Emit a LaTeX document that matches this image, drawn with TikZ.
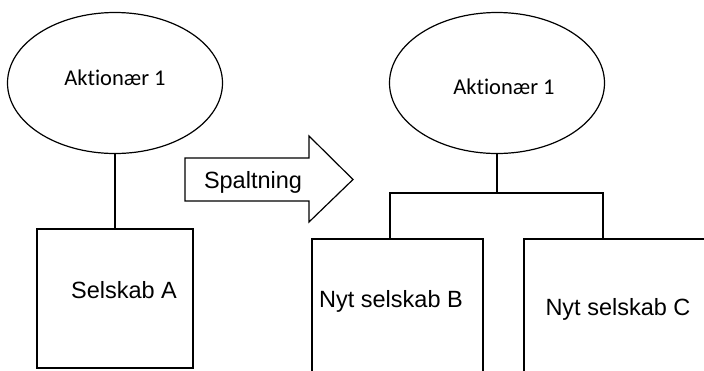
\documentclass[tikz,border=0pt]{standalone}
\usepackage{fontspec}
\setmainfont{Liberation Sans}
\newfontfamily\calib[Ligatures=NoCommon]{Carlito}
\usetikzlibrary{shapes.geometric}
\begin{document}
\begin{tikzpicture}[x=1pt,y=-1pt,line width=1.2pt,
  owner/.style={draw,ellipse,minimum width=215pt,minimum height=141pt,inner sep=0pt},
  ownertext/.style={font=\calib\fontsize{22.5}{26}\selectfont,inner sep=0pt,anchor=base},
  company/.style={draw,rectangle,inner sep=0pt},
  lbl/.style={font=\fontsize{23.5}{28}\selectfont,inner sep=0pt,anchor=base}]
\useasboundingbox (0,0) rectangle (704,370);
\clip (0,0) rectangle (704,370);
% left side
\node[owner] (o1) at (115,83) {};
\node[ownertext] (t1) at (115,85) {Aktionær 1};
\node[company,minimum width=156pt,minimum height=139pt] (a) at (115,298.5) {};
\node[lbl] (ta) at (124,298) {Selskab A};
\draw (o1.south) -- (a.north);
% arrow
\draw (185,158) -- (309,158) -- (309,136) -- (353,179.5) -- (309,222) -- (309,201) -- (185,201) -- cycle;
\node[lbl] (sp) at (253,188) {Spaltning};
% right side
\node[owner] (o2) at (497,83) {};
\node[ownertext] (t2) at (504,94) {Aktionær 1};
\node[company,minimum width=171pt,minimum height=181pt] (b) at (397.5,329.5) {};
\node[company,minimum width=206pt,minimum height=181pt] (c) at (627,329.5) {};
\node[lbl] (tb) at (391,307) {Nyt selskab B};
\node[lbl] (tc) at (618,315) {Nyt selskab C};
\coordinate (j) at (497,193);
\coordinate (jb) at (390,193);
\coordinate (jc) at (603,193);
\draw (o2.south) -- (j);
\draw (b.north west -| jb) -- (jb) -- (jc) -- (c.north west -| jc);
\end{tikzpicture}
\end{document}
